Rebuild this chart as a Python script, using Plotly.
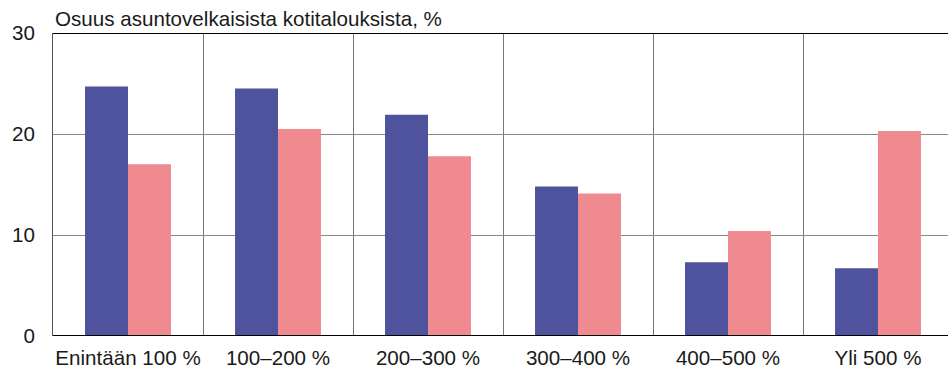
import plotly.graph_objects as go

categories = ["Enintään 100 %", "100–200 %", "200–300 %", "300–400 %", "400–500 %", "Yli 500 %"]
series_a = [24.7, 24.5, 21.9, 14.8, 7.3, 6.7]
series_b = [17.0, 20.5, 17.8, 14.1, 10.4, 20.3]
y_ticks = [0, 10, 20, 30]
title_text = "Osuus asuntovelkaisista kotitalouksista, %"

font_family = "Liberation Sans, Arial, sans-serif"
fs = 20.6

fig = go.Figure()
fig.add_trace(go.Bar(x=categories, y=series_a, marker=dict(color="#4F529C", line=dict(width=0)), showlegend=False))
fig.add_trace(go.Bar(x=categories, y=series_b, marker=dict(color="#F08A91", line=dict(width=0)), showlegend=False))

fig.update_layout(
    width=948, height=376,
    margin=dict(l=53, r=0, t=33, b=40),
    paper_bgcolor="white", plot_bgcolor="white",
    barmode="group", bargap=0.427, bargroupgap=0,
    font=dict(family=font_family, size=fs, color="#1a1a1a"),
    xaxis=dict(
        type="category", range=[-0.5, 5.5 - 5 / 150],
        tickson="boundaries", showgrid=True, gridcolor="#777777", gridwidth=1,
        ticks="", showline=False, zeroline=False, tickangle=0, automargin=False,
        tickfont=dict(size=fs), ticklabelstandoff=7,
    ),
    yaxis=dict(
        range=[0, 30], tickvals=y_ticks, showgrid=True, gridcolor="#888888", gridwidth=1,
        ticks="", showline=True, linecolor="#555555", linewidth=1, automargin=False,
        zeroline=False, tickfont=dict(size=fs), ticklabelstandoff=13,
    ),
    shapes=[
        dict(type="line", xref="paper", yref="y", x0=0, x1=1, y0=30, y1=30,
             line=dict(color="black", width=2)),
        dict(type="line", xref="paper", yref="y", x0=0, x1=1, y0=0, y1=0,
             line=dict(color="black", width=2)),
    ],
    annotations=[
        dict(text=title_text, xref="paper", yref="paper", x=0, y=1, xanchor="left", yanchor="bottom",
             yshift=1, showarrow=False, font=dict(size=fs, color="#1a1a1a")),
    ],
)

fig.write_html("out.html")
